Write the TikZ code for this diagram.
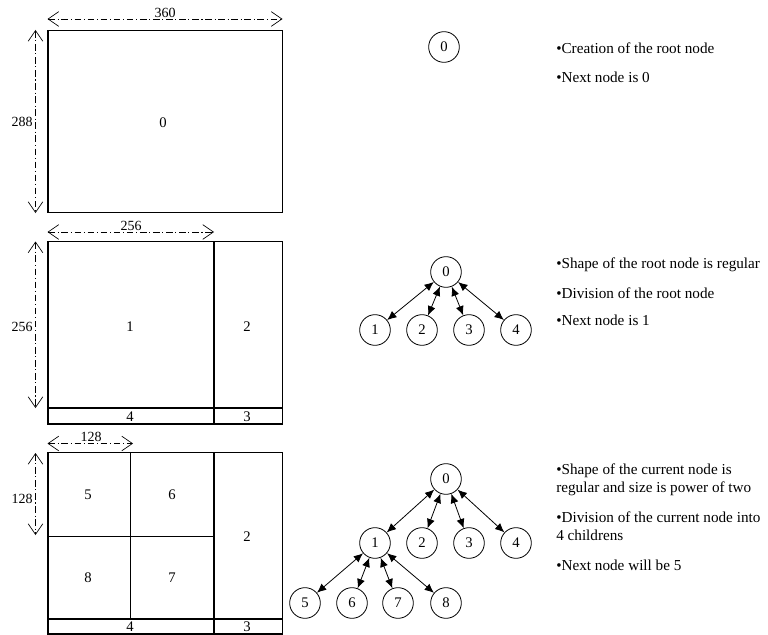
\documentclass[tikz,border=0pt]{standalone}
\usepackage{fontspec}
\setmainfont{Liberation Serif}
\usetikzlibrary{arrows.meta}

\begin{document}
\begin{tikzpicture}[x=0.75pt,y=0.75pt,yscale=-1,xscale=1,
  box/.style={line width=0.8pt},
  dimline/.style={line width=0.5pt,dash pattern=on 5pt off 2pt on 0.8pt off 2pt,
    {Straight Barb[length=8pt,width=11pt]}-{Straight Barb[length=8pt,width=11pt]}},
  lbl/.style={inner sep=0.75pt,font=\fontsize{11}{12}\selectfont},
  dimlbl/.style={inner sep=0.75pt,font=\fontsize{10.5}{12}\selectfont},
  tnode/.style={circle,draw,line width=0.6pt,minimum size=23pt,inner sep=0pt,font=\fontsize{11}{12}\selectfont},
  link/.style={line width=0.6pt,{Latex[length=7pt,width=6pt]}-{Latex[length=7pt,width=6pt]}},
  note/.style={anchor=west,align=left,inner sep=0pt,font=\fontsize{11.4}{13.5}\selectfont}]
\useasboundingbox (0,0) rectangle (768,635);

%%%%%%%% step 1 : root only
%Shape: Rectangle
\draw [box] (48,30.5) rectangle (282.5,212.5) ;
%Dimension Lines
\draw [dimline] (47.5,19) -- (282.5,19) ;
\draw [dimline] (35.5,30) -- (35.5,213) ;
% Text Node
\node [lbl] (r0) at (163,123) {0};
\node [dimlbl] (w360) at (165,13) {360};
\node [dimlbl] (h288) at (22,122) {288};
% Tree
\node [tnode] (a0) at (444,47) {0};
% Notes
\node [note] (na1) at (556,48) {•Creation of the root node};
\node [note] (na2) at (556,77) {•Next node is 0};

%%%%%%%% step 2 : root divided
%Shape: Rectangle
\draw [box] (48,241.5) rectangle (282.5,424) ;
\draw [box] (214,241.5) -- (214,424) ;
\draw [box] (48,408) -- (282.5,408) ;
%Dimension Lines
\draw [dimline] (47.5,232) -- (214,232) ;
\draw [dimline] (35.5,241.5) -- (35.5,408) ;
% Text Node
\node [lbl] (s1) at (130,327) {1};
\node [lbl] (s2) at (247,327) {2};
\node [lbl] (s4) at (130,416.5) {4};
\node [lbl] (s3) at (247,416.5) {3};
\node [dimlbl] (w256) at (131,226) {256};
\node [dimlbl] (h256) at (22,327) {256};
% Tree
\node [tnode] (b0) at (446,272) {0};
\node [tnode] (b1) at (375,330) {1};
\node [tnode] (b2) at (422,330) {2};
\node [tnode] (b3) at (469,330) {3};
\node [tnode] (b4) at (516,330) {4};
\foreach \c in {1,2,3,4}
  \draw [link] (b\c) -- (b0) ;
% Notes
\node [note] (nb1) at (556,265) {•Shape of the root node is regular};
\node [note] (nb2) at (556,293) {•Division of the root node};
\node [note] (nb3) at (556,320) {•Next node is 1};

%%%%%%%% step 3 : node 1 divided
%Shape: Rectangle
\draw [box] (48,452.5) rectangle (282.5,634) ;
\draw [box] (214,452.5) -- (214,634) ;
\draw [box] (130.5,452.5) -- (130.5,619) ;
\draw [box] (48,536.5) -- (214,536.5) ;
\draw [box] (48,619) -- (282.5,619) ;
%Dimension Lines
\draw [dimline] (47.5,443.5) -- (133,443.5) ;
\draw [dimline] (35.5,453) -- (35.5,535) ;
% Text Node
\node [lbl] (q5) at (88,495) {5};
\node [lbl] (q6) at (172,495) {6};
\node [lbl] (q8) at (88,578) {8};
\node [lbl] (q7) at (172,578) {7};
\node [lbl] (q2) at (247,537) {2};
\node [lbl] (q4) at (130,627) {4};
\node [lbl] (q3) at (247,627) {3};
\node [dimlbl] (w128) at (91,437) {128};
\node [dimlbl] (h128) at (22,499) {128};
% Tree
\node [tnode] (c0) at (446,479) {0};
\node [tnode] (c1) at (375,543) {1};
\node [tnode] (c2) at (422,543) {2};
\node [tnode] (c3) at (469,543) {3};
\node [tnode] (c4) at (516,543) {4};
\node [tnode] (c5) at (305,603) {5};
\node [tnode] (c6) at (352,603) {6};
\node [tnode] (c7) at (398,603) {7};
\node [tnode] (c8) at (446,603) {8};
\foreach \c in {1,2,3,4}
  \draw [link] (c\c) -- (c0) ;
\foreach \c in {5,6,7,8}
  \draw [link] (c\c) -- (c1) ;
% Notes
\node [note] (nc1) at (556,480) {•Shape of the current node is\\regular and size is power of two};
\node [note] (nc2) at (556,526.5) {•Division of the current node into\\4 childrens};
\node [note] (nc3) at (556,565) {•Next node will be 5};

\end{tikzpicture}
\end{document}
